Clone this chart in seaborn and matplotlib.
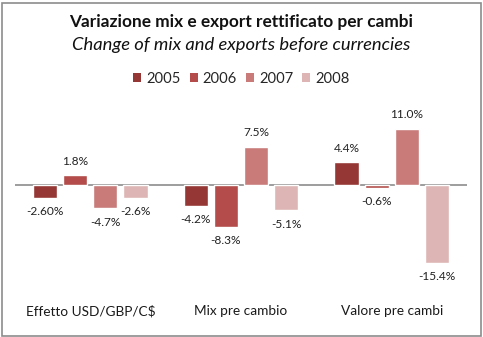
import matplotlib
matplotlib.use("Agg")
import matplotlib.pyplot as plt
import seaborn as sns
import pandas as pd
from matplotlib.patches import Rectangle

categories = ["Effetto USD/GBP/C$", "Mix pre cambio", "Valore pre cambi"]
years = ["2005", "2006", "2007", "2008"]
values_2005 = [-2.60, -4.2, 4.4]
values_2006 = [1.8, -8.3, -0.6]
values_2007 = [-4.7, 7.5, 11.0]
values_2008 = [-2.6, -5.1, -15.4]
labels_2005 = ["-2.60%", "-4.2%", "4.4%"]
labels_2006 = ["1.8%", "-8.3%", "-0.6%"]
labels_2007 = ["-4.7%", "7.5%", "11.0%"]
labels_2008 = ["-2.6%", "-5.1%", "-15.4%"]
colors = ["#953735", "#B34C4A", "#C97B7A", "#DEB5B5"]

series = [values_2005, values_2006, values_2007, values_2008]
series_labels = [labels_2005, labels_2006, labels_2007, labels_2008]

rows = []
for yr, vals, labs in zip(years, series, series_labels):
    for cat, v, l in zip(categories, vals, labs):
        rows.append({"categoria": cat, "anno": yr, "valore": v, "etichetta": l})
df = pd.DataFrame(rows)

sns.set_theme(style="white")
plt.rcParams["font.family"] = ["Lato", "DejaVu Sans"]

fig = plt.figure(figsize=(4.83, 3.37), dpi=100)
ax = fig.add_axes([15 / 483, 1 - 295 / 337, 452 / 483, (295 - 100) / 337])

sns.barplot(data=df, x="categoria", y="valore", hue="anno", order=categories,
            hue_order=years, palette=colors, width=0.8, gap=0.2,
            saturation=1, ax=ax, legend=False, errorbar=None)

ax.set_xlim(-0.5, 2.5)
ax.set_ylim(-21.8, 16.7)
ax.axhline(0, color="#8c8c8c", lw=1.2, zorder=0.5)
for s in ax.spines.values():
    s.set_visible(False)
ax.set_yticks([])
ax.set_xticks([])
ax.set_xlabel("")
ax.set_ylabel("")

# value labels above positive bars, below negative ones
for container, labs in zip(ax.containers, series_labels):
    for bar, lab in zip(container, labs):
        h = bar.get_height()
        x = bar.get_x() + bar.get_width() / 2
        off = 10 if h >= 0 else -10
        ax.annotate(lab, (x, h), xytext=(0, off), textcoords="offset points",
                    ha="center", va="center", fontsize=8.6, color="#222222")

# category labels under the plot
for i, cat in enumerate(categories):
    ax.annotate(cat, (i, 1 - 311 / 337), xycoords=("data", "figure fraction"),
                ha="center", va="center", fontsize=9.8, color="#1a1a1a")

# titles
fig.text(0.5, 1 - 22 / 337, "Variazione mix e export rettificato per cambi",
         ha="center", va="center", fontsize=12.4, fontweight="bold", color="#111111")
fig.text(0.5, 1 - 45 / 337, "Change of mix and exports before currencies",
         ha="center", va="center", fontsize=13.2, fontstyle="italic", color="#111111")

# legend
handles = [Rectangle((0, 0), 1, 1, facecolor=c, edgecolor="none") for c in colors]
fig.legend(handles, years, loc="center", bbox_to_anchor=(0.5, 1 - 79 / 337),
           ncol=4, frameon=False, fontsize=10.6, handlelength=0.55,
           handleheight=0.55, handletextpad=0.35, columnspacing=0.6)

# chart border
fig.patches.append(Rectangle((1.5 / 483, 1.5 / 337), 479 / 483, 333 / 337,
                             transform=fig.transFigure, fill=False,
                             edgecolor="#8c8c8c", lw=1.2))

fig.savefig("out.png", dpi=100)
